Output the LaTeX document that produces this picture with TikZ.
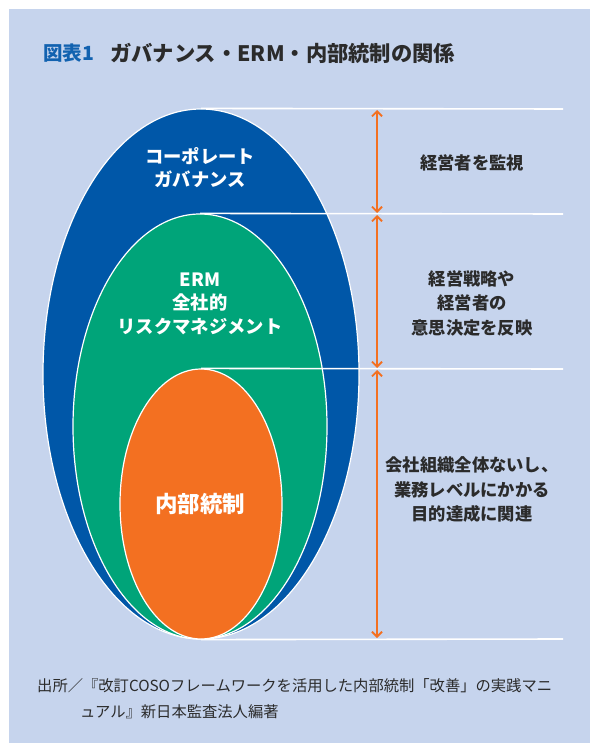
\documentclass[tikz,border=0pt]{standalone}
\usepackage{fontspec}
\setmainfont{Noto Sans CJK JP}
\usepackage{tikz}
\usetikzlibrary{arrows.meta,shapes.geometric,positioning}
\definecolor{fondbleu}{HTML}{C6D4ED}
\definecolor{bleugouv}{HTML}{0057A8}
\definecolor{vertrisque}{HTML}{00A479}
\definecolor{orangectrl}{HTML}{F37021}
\definecolor{titrebleu}{HTML}{1262B0}
\definecolor{texte}{HTML}{2B2B2B}

\begin{document}
\begin{tikzpicture}[
			x=1pt, y=-1pt,
			zone/.style={ellipse, draw=white, line width=1.2pt, inner sep=0pt},
			etiquette/.style={text=white, font=\bfseries\fontsize{18.3}{23.5}\selectfont, align=center, inner sep=0pt},
			remarque/.style={text=texte, font=\bfseries\fontsize{17.3}{24.5}\selectfont, align=center, inner sep=0pt},
			limite/.style={draw=white, line width=1.6pt},
			portee/.style={draw=orangectrl, line width=1.8pt, {Straight Barb[length=5pt,width=10pt]}-{Straight Barb[length=5pt,width=10pt]}}
			]

			% Le fond
			\fill[white] (0,0) rectangle (590,743);
			\fill[fondbleu] (9,9) rectangle (590,743);
			\useasboundingbox (0,0) rectangle (590,743);

			% Le titre
			\node[anchor=west, inner sep=0pt, text=titrebleu, font=\bfseries\fontsize{19.5}{19.5}\selectfont] (num) at (43,53) {図表1};
			\node[anchor=west, inner sep=0pt, text=texte, font=\bfseries\fontsize{21.3}{21.3}\selectfont] (titre) at (110,53) {ガバナンス・ERM・内部統制の関係};

			% Les ellipses
			\node[zone, fill=bleugouv, minimum width=316pt, minimum height=530pt] (gouv) at (201,374) {};
			\node[zone, fill=vertrisque, minimum width=254pt, minimum height=425pt] (erm) at (200,426.5) {};
			\node[zone, fill=orangectrl, minimum width=162pt, minimum height=270pt] (ctrl) at (201,504) {};

			% Les lignes blanches
			\coordinate (h1) at (563,109);
			\coordinate (h2) at (563,214);
			\coordinate (h3) at (563,369);
			\coordinate (h4) at (563,639);
			\draw[limite] (gouv.north) -- (h1);
			\draw[limite] (erm.north) -- (h2);
			\draw[limite] (ctrl.north) -- (h3);
			\draw[limite] (ctrl.south) -- (h4);

			% Les fleches
			\coordinate (f1) at (377,110);
			\coordinate (f2) at (377,213);
			\coordinate (f3) at (377,215);
			\coordinate (f4) at (377,368);
			\coordinate (f5) at (377,370);
			\coordinate (f6) at (377,638);
			\draw[portee] (f1) -- (f2);
			\draw[portee] (f3) -- (f4);
			\draw[portee] (f5) -- (f6);

			% Les etiquettes
			\node[etiquette] (lgouv) at (200,167.5) {コーポレート\\ガバナンス};
			\node[etiquette] (lerm) at (200,303.5) {ERM\\全社的\\リスクマネジメント};
			\node[etiquette, font=\bfseries\fontsize{22.5}{22.5}\selectfont] (lctrl) at (200,504) {内部統制};

			% Les remarques
			\node[remarque] (r1) at (472,163) {経営者を監視};
			\node[remarque] (r2) at (472,303) {経営戦略や\\経営者の\\意思決定を反映};
			\node[remarque] (r3) at (472,490) {会社組織全体ないし、\\業務レベルにかかる\\目的達成に関連};

			% La source
			\node[anchor=west, inner sep=0pt, text=texte, font=\fontsize{15.3}{15.3}\selectfont] (src1) at (37,686) {出所／『改訂COSOフレームワークを活用した内部統制「改善」の実践マニ};
			\node[anchor=west, inner sep=0pt, text=texte, font=\fontsize{15.3}{15.3}\selectfont] (src2) at (80,712) {ュアル』新日本監査法人編著};
		\end{tikzpicture}
\end{document}
